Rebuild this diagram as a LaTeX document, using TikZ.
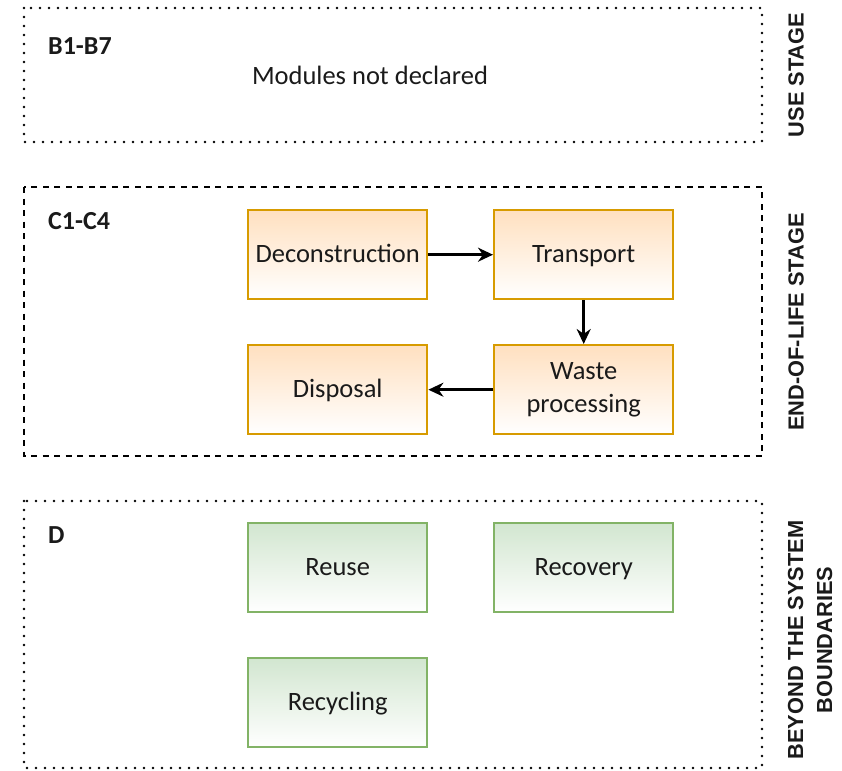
\documentclass[tikz,border=0pt]{standalone}
\usepackage{fontspec}
\setmainfont{Carlito}
\newfontfamily\sidefont{Liberation Sans}
\usetikzlibrary{arrows.meta}
\definecolor{txt}{HTML}{1A1A1A}
\definecolor{orline}{HTML}{D79B00}
\definecolor{orfill}{HTML}{FFE0C0}
\definecolor{grline}{HTML}{82B366}
\definecolor{grfill}{HTML}{D2E6D0}
\tikzset{
  dotframe/.style={draw=black, line width=2.8pt, line cap=round, dash pattern=on 0pt off 9pt},
  dashframe/.style={draw=black, line width=2.2pt, dash pattern=on 6pt off 5.5pt},
  boxbase/.style={line width=2.4pt, minimum width=179pt, minimum height=89pt, inner sep=0pt, font=\fontsize{26.5}{33}\selectfont, text=txt, align=center, anchor=north west},
  one/.style={text height=20pt, text depth=4pt},
  orbox/.style={boxbase, draw=orline, top color=orfill, bottom color=white},
  grbox/.style={boxbase, draw=grline, top color=grfill, bottom color=white},
  tag/.style={font=\bfseries\fontsize{26}{31}\selectfont, text=txt, anchor=west, inner sep=0pt},
  side/.style={font=\sidefont\bfseries\fontsize{21.8}{29}\selectfont, text=txt, rotate=90, align=center, inner sep=0pt},
  flow/.style={draw=black, line width=2.6pt, -{Stealth[length=15pt, width=14pt]}}
}
\begin{document}
\begin{tikzpicture}[x=1pt, y=-1pt]
\useasboundingbox (0,0) rectangle (842,770);
% frames
\draw[dotframe] (24,8) rectangle (762,142);
\draw[dashframe] (24,187) rectangle (762,456);
\draw[dotframe] (24,501) rectangle (762,768);
% tags
\node[tag] (tb) at (48,46) {B1-B7};
\node[tag] (tc) at (48,221) {C1-C4};
\node[tag] (td) at (48,535) {D};
\node[font=\fontsize{26.5}{33}\selectfont, text=txt] (mnd) at (370,75) {Modules not declared};
% side labels
\node[side] (s1) at (796,75) {USE STAGE};
\node[side] (s2) at (796,322) {END-OF-LIFE STAGE};
\node[side] (s3) at (810,640) {BEYOND THE SYSTEM\\BOUNDARIES};
% orange boxes
\node[orbox, one] (dec) at (247,209) {Deconstruction};
\node[orbox, one] (tra) at (493,209) {Transport};
\node[orbox] (was) at (493,344) {\raisebox{-2pt}{\begin{tabular}{@{}c@{}}Waste\\processing\end{tabular}}};
\node[orbox, one] (dis) at (247,344) {Disposal};
% green boxes
\node[grbox, one] (reu) at (247,522) {Reuse};
\node[grbox, one] (rec) at (493,522) {Recovery};
\node[grbox, one] (rcy) at (247,657) {Recycling};
% arrows
\draw[flow] (dec) -- (tra);
\draw[flow] (tra) -- (was);
\draw[flow] (was) -- (dis);
\end{tikzpicture}
\end{document}
